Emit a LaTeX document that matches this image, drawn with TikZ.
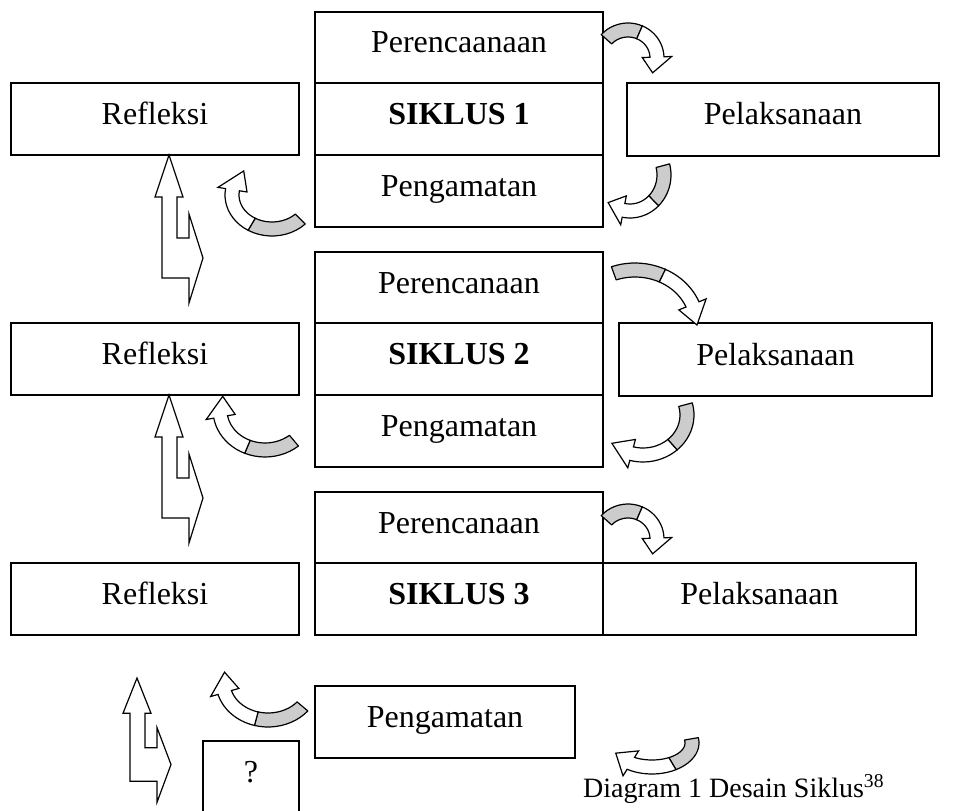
\documentclass[tikz,border=0pt]{standalone}
\usepackage{fontspec}
\setmainfont{Liberation Serif}
\usetikzlibrary{
    positioning,
    calc
}
\tikzstyle{box} = [
    rectangle,
    draw=black,
    line width=1.5pt,
    inner sep=0pt,
    outer sep=0pt,
    minimum height=72pt,
    text height=21pt,
    text depth=10pt,
    font=\fontsize{32}{38}\selectfont
]
\tikzstyle{midbox} = [
    box,
    minimum width=288pt
]
\tikzstyle{caption} = [
    inner sep=0pt,
    font=\fontsize{28}{32}\selectfont
]
\tikzstyle{blockarrow} = [
    draw=black,
    line width=1.2pt,
    fill=white,
    line join=miter
]
\tikzstyle{ribbontail} = [
    draw=black,
    line width=1.2pt,
    fill=gray!40,
    line join=round
]
\tikzstyle{ribbonbody} = [
    draw=black,
    line width=1.2pt,
    fill=white,
    line join=miter
]
% curved ribbon arrow: centre x, centre y, x radius, y radius, start, end, width
\newcommand{\ribbonarrow}[7]{%
    \pgfmathsetmacro{\ribmid}{(#5)+0.42*((#6)-(#5))}%
    \pgfmathsetmacro{\ribhead}{(#6)-0.2*((#6)-(#5))}%
    \filldraw[ribbontail]
        plot[domain=#5:\ribmid, samples=12] ({#1+(#3+#7/2)*cos(\x)}, {#2+(#4+#7/2)*sin(\x)})
        -- plot[domain=\ribmid:#5, samples=12] ({#1+(#3-#7/2)*cos(\x)}, {#2+(#4-#7/2)*sin(\x)})
        -- cycle;
    \filldraw[ribbonbody]
        plot[domain=\ribmid:\ribhead, samples=12] ({#1+(#3+#7/2)*cos(\x)}, {#2+(#4+#7/2)*sin(\x)})
        -- ({#1+(#3+1.05*#7)*cos(\ribhead)}, {#2+(#4+1.05*#7)*sin(\ribhead)})
        -- ({#1+#3*cos(#6)}, {#2+#4*sin(#6)})
        -- ({#1+(#3-1.05*#7)*cos(\ribhead)}, {#2+(#4-1.05*#7)*sin(\ribhead)})
        -- plot[domain=\ribhead:\ribmid, samples=12] ({#1+(#3-#7/2)*cos(\x)}, {#2+(#4-#7/2)*sin(\x)})
        -- cycle;
}
% up arrow with a side head: tip x, tip y, vertical scale
\newcommand{\bentarrow}[3]{%
    \draw[blockarrow, shift={(#1,#2)}, yscale=#3]
        (0,0) -- (14,42) -- (8,42) -- (8,83) -- (20,83) -- (20,59) -- (34,103)
        -- (20,148) -- (20,123) -- (-7,123) -- (-7,42) -- (-14,42) -- cycle;
}

\begin{document}
\begin{tikzpicture}[x=1pt, y=-1pt]
    \useasboundingbox (0,0) rectangle (973,810);

    % Siklus 1
    \node[midbox, minimum height=71pt] (per1) at (459,47.5) {Perencaanaan};
    \node[midbox, below=0pt of per1] (sik1) {\textbf{SIKLUS 1}};
    \node[midbox, below=0pt of sik1] (pen1) {Pengamatan};
    \node[box, minimum width=288pt] (ref1) at (155,119) {Refleksi};
    \node[box, minimum width=312pt, minimum height=73pt] (pel1) at (783,119.5) {Pelaksanaan};

    \ribbonarrow{628}{58}{29}{28}{-138}{32}{14}
    \ribbonarrow{630}{175}{34}{36}{-15}{130}{14}
    \ribbonarrow{272}{195}{40}{34}{45}{225}{14}
    \bentarrow{169}{155}{1}

    % Siklus 2
    \node[midbox, minimum height=71pt] (per2) at (459,287.5) {Perencanaan};
    \node[midbox, below=0pt of per2] (sik2) {\textbf{SIKLUS 2}};
    \node[midbox, below=0pt of sik2] (pen2) {Pengamatan};
    \node[box, minimum width=288pt] (ref2) at (155,359) {Refleksi};
    \node[box, minimum width=313pt, minimum height=73pt] (pel2) at (775.5,359.5) {Pelaksanaan};

    \ribbonarrow{635}{325}{62}{55}{-110}{0}{14}
    \ribbonarrow{643}{415}{44}{40}{-15}{135}{14}
    \ribbonarrow{265}{410}{45}{40}{50}{200}{14}
    \bentarrow{169}{395}{1}

    % Siklus 3
    \node[midbox, minimum height=71pt] (per3) at (459,527.5) {Perencanaan};
    \node[midbox, below=0pt of per3] (sik3) {\textbf{SIKLUS 3}};
    \node[box, minimum width=313pt, right=0pt of sik3] (pel3) {Pelaksanaan};
    \node[box, minimum width=288pt] (ref3) at (155,599) {Refleksi};
    \node[box, minimum width=260pt] (pen3) at (445,722) {Pengamatan};
    \node[box, minimum width=96pt, minimum height=0pt, text height=41pt, text depth=39pt, anchor=base] (tanya) at (251,782) {?};

    \ribbonarrow{628}{539}{29}{28}{-138}{32}{14}
    \ribbonarrow{652}{743}{40}{24}{-10}{155}{14}
    \ribbonarrow{268}{682}{45}{38}{40}{195}{14}
    \bentarrow{137}{678}{0.84}

    % Keterangan
    \node[caption, anchor=base west] (judul) at (583,797) {Diagram 1 Desain Siklus\textsuperscript{38}};
\end{tikzpicture}
\end{document}
